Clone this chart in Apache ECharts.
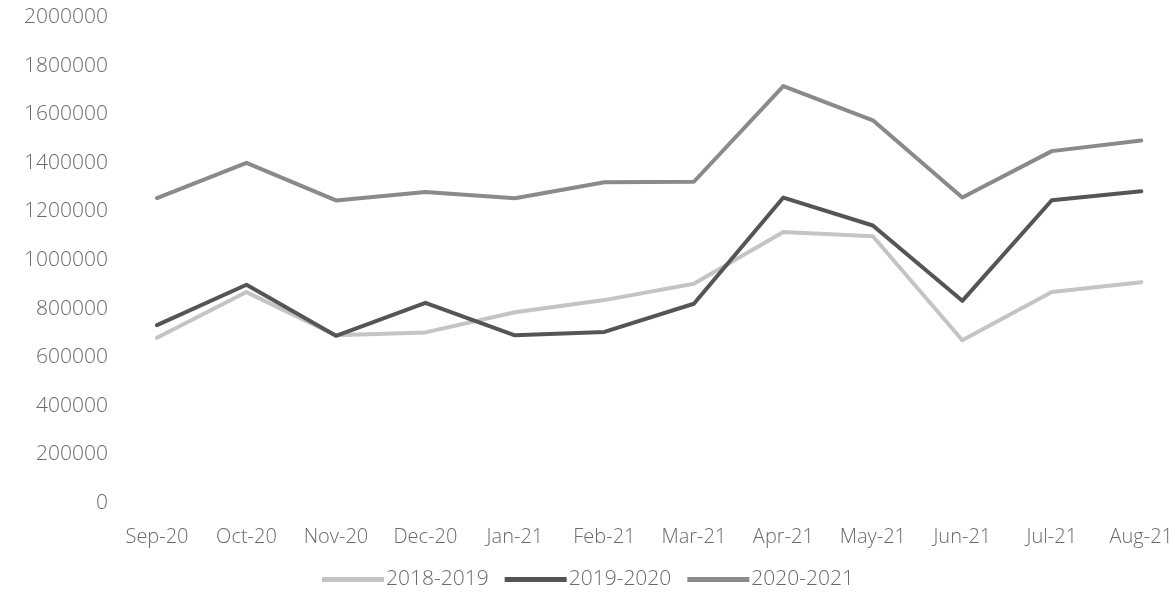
<!DOCTYPE html>
<html>
<head>
<meta charset="utf-8">
<script src="https://cdn.jsdelivr.net/npm/echarts@6/dist/echarts.min.js"></script>
<style>
html,body{margin:0;padding:0;background:#fff;}
#chart{width:1176px;height:596px;}
</style>
</head>
<body>
<div id="chart"></div>
<script>
const categories = ["Sep-20","Oct-20","Nov-20","Dec-20","Jan-21","Feb-21","Mar-21","Apr-21","May-21","Jun-21","Jul-21","Aug-21"];
const s2018_2019 = [680000, 868000, 690000, 702000, 785000, 835000, 902000, 1115000, 1098000, 670000, 868000, 908000];
const s2019_2020 = [732000, 898000, 688000, 824000, 690000, 704000, 820000, 1257000, 1142000, 832000, 1246000, 1283000];
const s2020_2021 = [1255000, 1400000, 1245000, 1280000, 1254000, 1320000, 1322000, 1716000, 1575000, 1257000, 1448000, 1492000];
const seriesNames = ["2018-2019","2019-2020","2020-2021"];
const yTicks = {min: 0, max: 2000000, interval: 200000};

const colors = ["#c4c4c4", "#555555", "#8a8a8a"];
const font = "'Open Sans', 'Noto Sans', sans-serif";
const chart = echarts.init(document.getElementById('chart'));
const mk = (name, data, i) => ({
  name, type: 'line', data, symbol: 'none', smooth: false,
  lineStyle: {color: colors[i], width: 4, cap: 'round', join: 'round'},
  itemStyle: {color: colors[i]}
});
chart.setOption({
  animation: false,
  color: colors,
  grid: {left: 157, right: 33, top: 17, bottom: 93, containLabel: false},
  xAxis: {
    type: 'category', data: categories, boundaryGap: false,
    axisLine: {show: false}, axisTick: {show: false}, splitLine: {show: false},
    axisLabel: {color: '#6a6a6a', fontSize: 20, fontWeight: 300, fontFamily: font, margin: 24, interval: 0}
  },
  yAxis: {
    type: 'value', min: yTicks.min, max: yTicks.max, interval: yTicks.interval,
    axisLine: {show: false}, axisTick: {show: false}, splitLine: {show: false},
    axisLabel: {color: '#6a6a6a', fontSize: 21, fontWeight: 300, fontFamily: font, margin: 49,
      formatter: v => String(v)}
  },
  legend: {
    bottom: 1, left: 'center', itemWidth: 62, itemHeight: 5, itemGap: 16,
    icon: 'rect',
    textStyle: {color: '#6a6a6a', fontSize: 21, fontWeight: 300, fontFamily: font, padding: [0,0,0,-3]},
    data: seriesNames
  },
  series: [
    mk(seriesNames[0], s2018_2019, 0),
    mk(seriesNames[1], s2019_2020, 1),
    mk(seriesNames[2], s2020_2021, 2)
  ]
});
</script>
</body>
</html>
